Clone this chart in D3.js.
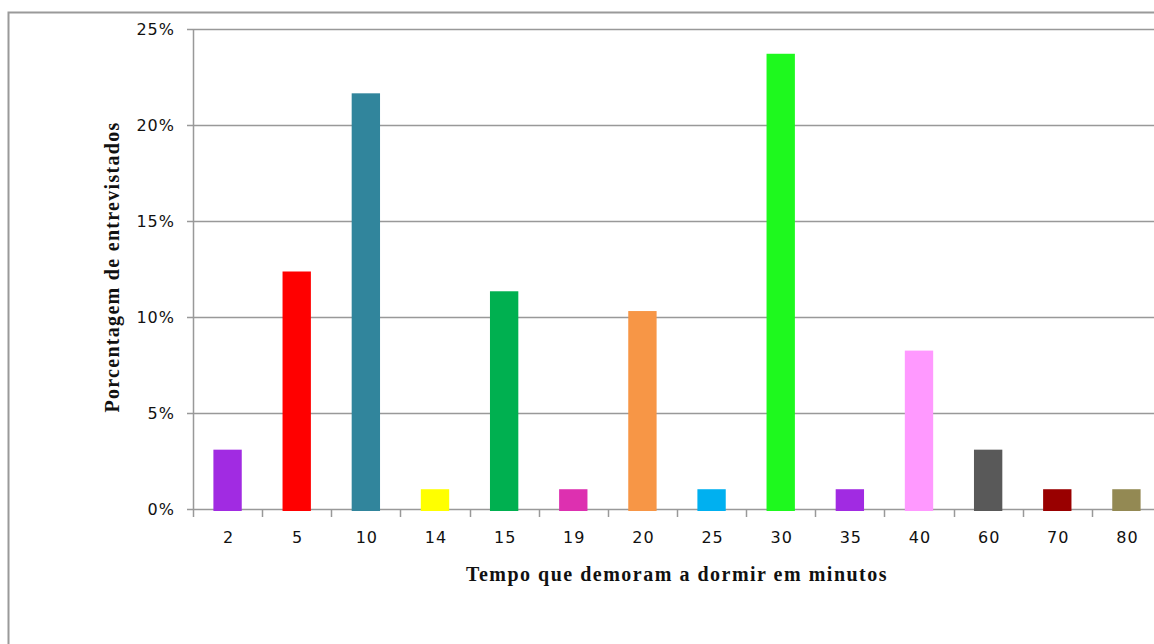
<!DOCTYPE html>
<meta charset="utf-8">
<script src="https://d3js.org/d3.v7.min.js"></script>
<div id="chart"></div>
<style>
  body { margin: 0; background: #fff; overflow: hidden; }
  svg { display: block; }
</style>
<script>

// minutes to fall asleep (categories) and % of respondents
var categories = ["2", "5", "10", "14", "15", "19", "20", "25", "30", "35", "40", "60", "70", "80"];
var percents = [3.09, 12.37, 21.65, 1.03, 11.34, 1.03, 10.31, 1.03, 23.71, 1.03, 8.25, 3.09, 1.03, 1.03];
var barColors = ["#A12BE2", "#FF0000", "#31859C", "#FFFF00", "#00B050", "#DD30B0", "#F79646", "#00B0F0",
                 "#1EF91E", "#A12BE2", "#FF99FF", "#595959", "#990000", "#938953"];
var yTicks = [0, 5, 10, 15, 20, 25];

var W = 1154, H = 644;
// plot area runs a little past the right edge, like the original crop
var margin = {left: 193, top: 29, right: 1161, bottom: 509};

var svg = d3.select("#chart").append("svg")
    .attr("width", W)
    .attr("height", H);

// outer chart border
svg.append("rect")
    .attr("x", 8.5).attr("y", 12.5)
    .attr("width", 1200).attr("height", 700)
    .attr("fill", "none")
    .attr("stroke", "#9a9a9a")
    .attr("stroke-width", 2);

var x = d3.scaleBand()
    .domain(categories)
    .range([margin.left, margin.right])
    .paddingInner(0).paddingOuter(0);

var y = d3.scaleLinear()
    .domain([0, 25])
    .range([margin.bottom, margin.top]);

// gridlines
svg.append("g")
  .selectAll("line")
  .data(yTicks)
  .enter().append("line")
    .attr("x1", margin.left - 6)
    .attr("x2", margin.right)
    .attr("y1", function(d) { return Math.round(y(d)) + 0.5; })
    .attr("y2", function(d) { return Math.round(y(d)) + 0.5; })
    .attr("stroke", "#999")
    .attr("stroke-width", 1.5);

// y tick labels
svg.append("g")
  .selectAll("text")
  .data(yTicks)
  .enter().append("text")
    .attr("x", 175)
    .attr("y", function(d) { return y(d) + 6; })
    .attr("text-anchor", "end")
    .attr("font-family", "DejaVu Sans, sans-serif")
    .attr("font-size", 16)
    .attr("letter-spacing", 1)
    .attr("fill", "#111")
    .text(function(d) { return d + "%"; });

// y axis line
svg.append("line")
    .attr("x1", margin.left + 0.5).attr("x2", margin.left + 0.5)
    .attr("y1", margin.top).attr("y2", margin.bottom)
    .attr("stroke", "#999")
    .attr("stroke-width", 1.5);

// bars
var barW = x.bandwidth() * 0.41;
svg.append("g")
  .selectAll("rect")
  .data(percents)
  .enter().append("rect")
    .attr("x", function(d, i) { return x(categories[i]) + (x.bandwidth() - barW) / 2; })
    .attr("y", function(d) { return y(d); })
    .attr("width", barW)
    .attr("height", function(d) { return y(0) - y(d) + 2; })
    .attr("fill", function(d, i) { return barColors[i]; });

// category tick marks
var tickPos = categories.map(function(c) { return x(c); });
svg.append("g")
  .selectAll("line")
  .data(tickPos)
  .enter().append("line")
    .attr("x1", function(d) { return Math.round(d) + 0.5; })
    .attr("x2", function(d) { return Math.round(d) + 0.5; })
    .attr("y1", margin.bottom)
    .attr("y2", margin.bottom + 8)
    .attr("stroke", "#999")
    .attr("stroke-width", 1.5);

// category labels
svg.append("g")
  .selectAll("text")
  .data(categories)
  .enter().append("text")
    .attr("x", function(d) { return x(d) + x.bandwidth() / 2 + 1; })
    .attr("y", 543)
    .attr("text-anchor", "middle")
    .attr("font-family", "DejaVu Sans, sans-serif")
    .attr("font-size", 16)
    .attr("letter-spacing", 1)
    .attr("fill", "#111")
    .text(function(d) { return d; });

// axis titles
svg.append("text")
    .attr("x", 677)
    .attr("y", 581)
    .attr("text-anchor", "middle")
    .attr("font-family", "Liberation Serif, serif")
    .attr("font-weight", "bold")
    .attr("font-size", 20)
    .attr("letter-spacing", 1.5)
    .attr("fill", "#111")
    .text("Tempo que demoram a dormir em minutos");

svg.append("text")
    .attr("transform", "translate(119,267) rotate(-90)")
    .attr("text-anchor", "middle")
    .attr("font-family", "Liberation Serif, serif")
    .attr("font-weight", "bold")
    .attr("font-size", 20)
    .attr("letter-spacing", 1.3)
    .attr("fill", "#111")
    .text("Porcentagem de entrevistados");

</script>
